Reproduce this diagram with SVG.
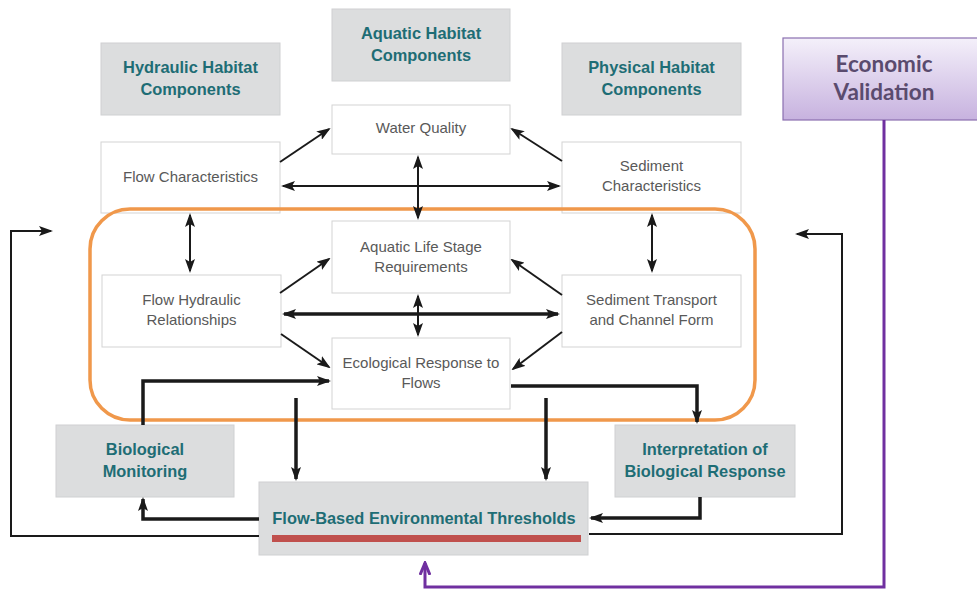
<svg xmlns="http://www.w3.org/2000/svg" width="977" height="589" viewBox="0 0 977 589">
  <defs>
    <style>
      .box { fill: #ffffff; stroke: #d3d3d3; stroke-width: 1; }
      .gbox { fill: #dcddde; stroke: #cfd0d2; stroke-width: 1; }
      .hd { font-family: "Liberation Sans", Arial, sans-serif; font-weight: bold; font-size: 16.4px; fill: #1e6d75; text-anchor: middle; }
      .tx { font-family: "Liberation Sans", Arial, sans-serif; font-size: 15px; fill: #595959; text-anchor: middle; }
      .ln { fill: none; stroke: #1a1a1a; stroke-width: 2; }
      .thk { fill: none; stroke: #1a1a1a; stroke-width: 3.5; }
      .thin { fill: none; stroke: #1a1a1a; stroke-width: 2; }
    </style>
    <marker id="ah" viewBox="0 0 14 10" refX="12" refY="5" markerWidth="14" markerHeight="10" markerUnits="userSpaceOnUse" orient="auto-start-reverse">
      <path d="M0,0 L14,5 L0,10 L3,5 z" fill="#1a1a1a"/>
    </marker>
    <marker id="ahp" viewBox="0 0 14 12" refX="12" refY="6" markerWidth="14" markerHeight="12" markerUnits="userSpaceOnUse" orient="auto">
      <path d="M0,1 L12,6 L0,11" fill="none" stroke="#7030a0" stroke-width="3"/>
    </marker>
    <linearGradient id="evg" x1="0" y1="0" x2="0" y2="1">
      <stop offset="0" stop-color="#f4f0fa"/>
      <stop offset="1" stop-color="#c7b2df"/>
    </linearGradient>
  </defs>

  <rect width="977" height="589" fill="#ffffff"/>

  <!-- category headers -->
  <g id="hydraulic-habitat">
    <rect class="gbox" x="101" y="43" width="179" height="72"/>
    <text class="hd" x="190.5" y="73">Hydraulic Habitat</text>
    <text class="hd" x="190.5" y="95">Components</text>
  </g>
  <g id="aquatic-habitat">
    <rect class="gbox" x="332" y="9" width="178" height="72"/>
    <text class="hd" x="421" y="39">Aquatic Habitat</text>
    <text class="hd" x="421" y="61">Components</text>
  </g>
  <g id="physical-habitat">
    <rect class="gbox" x="562" y="43" width="179" height="72"/>
    <text class="hd" x="651.5" y="73">Physical Habitat</text>
    <text class="hd" x="651.5" y="95">Components</text>
  </g>

  <g id="economic-validation">
    <rect x="783" y="38" width="200" height="82" fill="url(#evg)" stroke="#8a6fb0" stroke-width="1.2"/>
    <text x="884" y="72" font-family="Lato, 'Open Sans', sans-serif" font-weight="bold" font-size="22.5" fill="#5a4b6e" text-anchor="middle">Economic</text>
    <text x="884" y="100" font-family="Lato, 'Open Sans', sans-serif" font-weight="bold" font-size="22.5" fill="#5a4b6e" text-anchor="middle">Validation</text>
  </g>

  <!-- component boxes -->
  <g id="water-quality">
    <rect class="box" x="332" y="105" width="178" height="49"/>
    <text class="tx" x="421" y="133">Water Quality</text>
  </g>
  <g id="flow-characteristics">
    <rect class="box" x="101" y="142" width="179" height="71"/>
    <text class="tx" x="190.5" y="182">Flow Characteristics</text>
  </g>
  <g id="sediment-characteristics">
    <rect class="box" x="562" y="142" width="179" height="71"/>
    <text class="tx" x="651.5" y="171">Sediment</text>
    <text class="tx" x="651.5" y="191">Characteristics</text>
  </g>
  <g id="aquatic-life-stage">
    <rect class="box" x="332" y="221" width="178" height="72"/>
    <text class="tx" x="421" y="252">Aquatic Life Stage</text>
    <text class="tx" x="421" y="272">Requirements</text>
  </g>
  <g id="flow-hydraulic">
    <rect class="box" x="102" y="275" width="179" height="72"/>
    <text class="tx" x="191.5" y="305">Flow Hydraulic</text>
    <text class="tx" x="191.5" y="325">Relationships</text>
  </g>
  <g id="sediment-transport">
    <rect class="box" x="562" y="275" width="179" height="72"/>
    <text class="tx" x="651.5" y="305">Sediment Transport</text>
    <text class="tx" x="651.5" y="325">and Channel Form</text>
  </g>
  <g id="ecological-response">
    <rect class="box" x="332" y="338" width="178" height="71"/>
    <text class="tx" x="421" y="368">Ecological Response to</text>
    <text class="tx" x="421" y="388">Flows</text>
  </g>

  <!-- monitoring and thresholds -->
  <g id="biological-monitoring">
    <rect class="gbox" x="56" y="425" width="178" height="72"/>
    <text class="hd" x="145" y="455">Biological</text>
    <text class="hd" x="145" y="477">Monitoring</text>
  </g>
  <g id="interpretation">
    <rect class="gbox" x="615" y="425" width="180" height="72"/>
    <text class="hd" x="705" y="455">Interpretation of</text>
    <text class="hd" x="705" y="477">Biological Response</text>
  </g>
  <g id="thresholds">
    <rect class="gbox" x="259" y="482" width="329" height="73"/>
    <text class="hd" x="424" y="524">Flow-Based Environmental Thresholds</text>
    <rect x="272" y="535" width="309" height="7" fill="#c0504d"/>
  </g>

  <!-- core process boundary, drawn over the box edges -->
  <rect x="90" y="209" width="665" height="211" rx="40" ry="40" fill="none" stroke="#f0984b" stroke-width="3.5"/>

  <!-- connectors -->
  <g id="connectors">
    <!-- upper tier -->
    <line class="ln" x1="280" y1="162" x2="329" y2="129" marker-end="url(#ah)"/>
    <line class="ln" x1="562" y1="161" x2="512" y2="129" marker-end="url(#ah)"/>
    <line class="ln" x1="283" y1="186" x2="559" y2="186" marker-start="url(#ah)" marker-end="url(#ah)"/>
    <line class="ln" x1="418" y1="157" x2="418" y2="218" marker-start="url(#ah)" marker-end="url(#ah)"/>
    <line class="ln" x1="190" y1="215" x2="190" y2="271" marker-start="url(#ah)" marker-end="url(#ah)"/>
    <line class="ln" x1="652" y1="215" x2="652" y2="271" marker-start="url(#ah)" marker-end="url(#ah)"/>
    <!-- middle tier -->
    <line class="ln" x1="280" y1="293" x2="329" y2="259" marker-end="url(#ah)"/>
    <line class="ln" x1="562" y1="295" x2="512" y2="260" marker-end="url(#ah)"/>
    <line class="thk" x1="284" y1="314" x2="558" y2="314" marker-start="url(#ah)" marker-end="url(#ah)"/>
    <line class="ln" x1="418" y1="296" x2="418" y2="335" marker-start="url(#ah)" marker-end="url(#ah)"/>
    <line class="ln" x1="281" y1="334" x2="329" y2="367" marker-end="url(#ah)"/>
    <line class="ln" x1="562" y1="332" x2="513" y2="369" marker-end="url(#ah)"/>
    <!-- feedback loop -->
    <polyline class="thk" points="143,425 143,381 329,381" marker-end="url(#ah)"/>
    <polyline class="thk" points="511,386 697,386 697,422" marker-end="url(#ah)"/>
    <line class="thk" x1="296" y1="398" x2="296" y2="479" marker-end="url(#ah)"/>
    <line class="thk" x1="546" y1="398" x2="546" y2="479" marker-end="url(#ah)"/>
    <polyline class="thk" points="259,519 143,519 143,499" marker-end="url(#ah)"/>
    <polyline class="thk" points="700,497 700,518 591,518" marker-end="url(#ah)"/>
    <!-- outer return paths -->
    <polyline class="thin" points="259,536 11,536 11,231 51,231" marker-end="url(#ah)"/>
    <polyline class="thin" points="589,534 842,534 842,234 797,234" marker-end="url(#ah)"/>
    <!-- economic validation link -->
    <polyline points="884,120 884,587 425,587 425,563" fill="none" stroke="#7030a0" stroke-width="3" marker-end="url(#ahp)"/>
  </g>
</svg>
